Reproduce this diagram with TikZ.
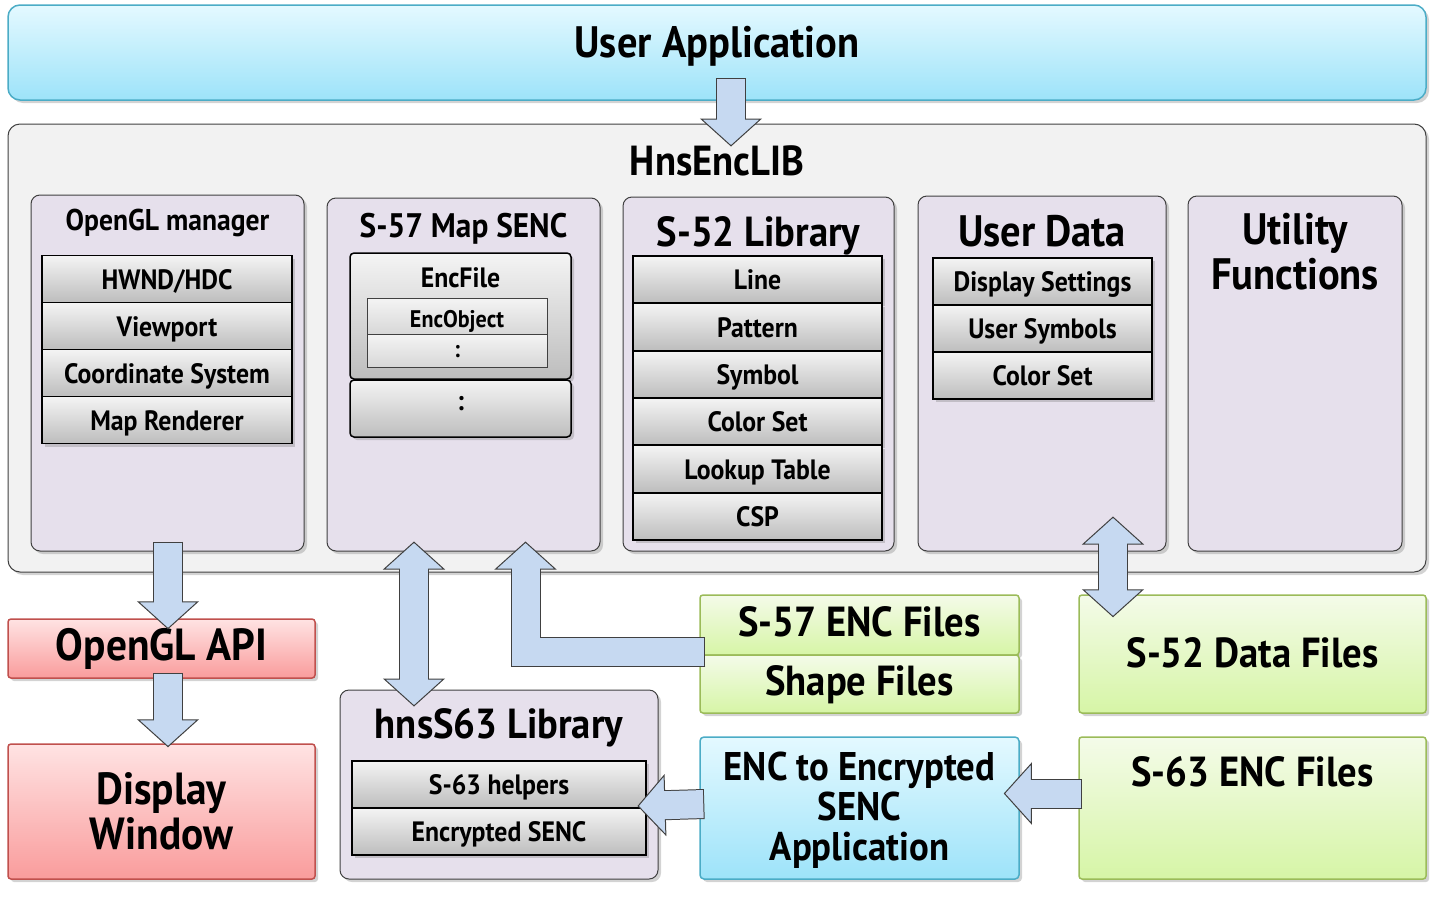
\documentclass[tikz,border=0pt]{standalone}
\usepackage{fontspec}
\setmainfont{PT Sans}[FakeStretch=0.92]
\usetikzlibrary{arrows.meta,shadows}
\definecolor{uatop}{HTML}{E4F9FF}
\definecolor{uabot}{HTML}{9DE3F9}
\definecolor{uaedge}{HTML}{4BACC6}
\definecolor{libfill}{HTML}{F2F2F2}
\definecolor{edge}{HTML}{404040}
\definecolor{lav}{HTML}{E6E0EC}
\definecolor{itemtop}{HTML}{F4F4F4}
\definecolor{itembot}{HTML}{BDBDBD}
\definecolor{redtop}{HTML}{FFE3E3}
\definecolor{redbot}{HTML}{F99C9C}
\definecolor{rededge}{HTML}{C0504D}
\definecolor{grntop}{HTML}{F4FBE9}
\definecolor{grnbot}{HTML}{D6F5A6}
\definecolor{grnedge}{HTML}{9BBB59}
\definecolor{arrfill}{HTML}{C6D9F1}
\newcommand\hugefont{\bfseries\fontsize{44}{45}\selectfont}
\newcommand\bigfont{\bfseries\fontsize{42}{44}\selectfont}
\newcommand\titlefont{\bfseries\fontsize{34}{36}\selectfont}
\newcommand\itemfont{\bfseries\fontsize{28}{30}\selectfont}
\newcommand\smallfont{\bfseries\fontsize{24}{26}\selectfont}
\tikzset{
  shade/.style={drop shadow={shadow xshift=3pt,shadow yshift=-3pt,opacity=.35}},
  bluebox/.style={rounded corners=12pt,draw=uaedge,line width=1.5pt,top color=uatop,bottom color=uabot,shade},
  libbox/.style={rounded corners=12pt,draw=edge,line width=1pt,fill=libfill,shade},
  colbox/.style={rounded corners=9pt,draw=edge,line width=1pt,fill=lav,shade},
  redbox/.style={rounded corners=3pt,draw=rededge,line width=1.5pt,top color=redtop,bottom color=redbot,shade},
  grnbox/.style={rounded corners=3pt,draw=grnedge,line width=1.5pt,top color=grntop,bottom color=grnbot,shade},
  item/.style={draw=black,line width=1.5pt,top color=itemtop,bottom color=itembot,minimum height=47pt,
    font=\itemfont,text height=20pt,text depth=0pt,shade},
  subitem/.style={draw=edge,line width=.8pt,top color=itemtop,bottom color=itembot!60,font=\smallfont,
    text height=22pt,text depth=0pt},
  blk/.tip={Triangle[length=28pt,width=62pt,line width=1pt,color=edge,fill=arrfill]},
  blkout/.style={draw=edge,line width=30pt,line join=miter},
  blkin/.style={draw=arrfill,line width=28pt,line join=miter,shorten <=1pt,shorten >=26pt},
}
\begin{document}
\begin{tikzpicture}[x=1pt,y=-1pt]
  \useasboundingbox (0,0) rectangle (1440,900);

  % top and library frame
  \path
  (717,52.5) node[bluebox,minimum width=1418pt,minimum height=95pt](ua) {}
  (717,57) node[anchor=base,font=\hugefont](uatext) {User Application}
  (717,348) node[libbox,minimum width=1418pt,minimum height=448pt](lib) {}
  (717,175) node[anchor=base,font=\bigfont](libtext) {HnsEncLIB}
  ;

  % OpenGL manager
  \path
  (167.5,373) node[colbox,minimum width=273pt,minimum height=356pt](ogl) {}
  (167.5,230) node[anchor=base,font=\bfseries\fontsize{30}{32}\selectfont](ogltext) {OpenGL manager}
  (167,279) node[item,minimum width=250pt](hwnd) {HWND/HDC}
  (167,326) node[item,minimum width=250pt](view) {Viewport}
  (167,373) node[item,minimum width=250pt](coord) {Coordinate System}
  (167,420) node[item,minimum width=250pt](render) {Map Renderer}
  ;

  % S-57 Map SENC
  \path
  (463.5,374.5) node[colbox,minimum width=273pt,minimum height=353pt](senc) {}
  (463.5,237) node[anchor=base,font=\titlefont](senctext) {S-57 Map SENC}
  (460.5,316) node[item,rounded corners=4pt,minimum width=221pt,minimum height=126pt](encfile) {}
  (460.5,287) node[anchor=base,font=\itemfont](encfiletext) {EncFile}
  (457,316) node[subitem,minimum width=180pt,minimum height=36pt](encobj) {EncObject}
  (457,350.5) node[subitem,minimum width=180pt,minimum height=33pt,text height=14pt](encdots) {:}
  (460.5,408.5) node[item,rounded corners=4pt,minimum width=221pt,minimum height=57pt,
    text height=3pt](filedots) {:}
  ;

  % S-52 Library
  \path
  (758.5,374) node[colbox,minimum width=271pt,minimum height=354pt](s52) {}
  (758.5,246) node[anchor=base,font=\bigfont](s52text) {S-52 Library}
  (757.5,279.7) node[item,minimum width=249pt](line) {Line}
  (757.5,327) node[item,minimum width=249pt](pattern) {Pattern}
  (757.5,374.3) node[item,minimum width=249pt](symbol) {Symbol}
  (757.5,421.6) node[item,minimum width=249pt](colset) {Color Set}
  (757.5,469) node[item,minimum width=249pt](lookup) {Lookup Table}
  (757.5,516.3) node[item,minimum width=249pt](csp) {CSP}
  ;

  % User Data
  \path
  (1042,373.5) node[colbox,minimum width=248pt,minimum height=355pt](ud) {}
  (1042,246) node[anchor=base,font=\hugefont](udtext) {User Data}
  (1042.5,281.5) node[item,minimum width=219pt](dispset) {Display Settings}
  (1042.5,328.5) node[item,minimum width=219pt](usym) {User Symbols}
  (1042.5,375.5) node[item,minimum width=219pt](ucol) {Color Set}
  ;

  % Utility Functions
  \path
  (1295,373.5) node[colbox,minimum width=214pt,minimum height=355pt](util) {}
  (1295,289) node[anchor=base,font=\hugefont,align=center](utiltext) {Utility\\Functions}
  ;

  % outside the library
  \path
  (161.5,648.5) node[redbox,minimum width=307pt,minimum height=59pt,font=\bfseries\fontsize{45}{46}\selectfont,
    text height=31pt,text depth=8pt](oglapi) {OpenGL API}
  (161.5,811.5) node[redbox,minimum width=307pt,minimum height=135pt,font=\bfseries\fontsize{45}{45}\selectfont,
    align=center](disp) {Display\\Window}
  (499,784.5) node[colbox,minimum width=318pt,minimum height=189pt](s63lib) {}
  (499,738) node[anchor=base,font=\bigfont](s63libtext) {hnsS63 Library}
  (499,784.5) node[item,minimum width=294pt](helpers) {S-63 helpers}
  (499,831.5) node[item,minimum width=294pt](encsenc) {Encrypted SENC}
  (859.5,625) node[grnbox,minimum width=319pt,minimum height=60pt,font=\bigfont,
    text height=30pt,text depth=8pt](s57files) {S-57 ENC Files}
  (859.5,684) node[grnbox,minimum width=319pt,minimum height=58pt,font=\bigfont,
    text height=30pt,text depth=8pt](shape) {Shape Files}
  (1252.5,654) node[grnbox,minimum width=347pt,minimum height=118pt,font=\bigfont,
    text height=30pt,text depth=4pt](s52files) {S-52 Data Files}
  (859.5,808) node[bluebox,rounded corners=4pt,minimum width=319pt,minimum height=142pt](encapp) {}
  (859.5,810) node[font=\fontsize{40}{40}\bfseries\selectfont,align=center](encapptext) {ENC to Encrypted\\SENC\\Application}
  (1252.5,808) node[grnbox,minimum width=347pt,minimum height=142pt](s63files) {}
  (1252.5,786) node[anchor=base,font=\bigfont](s63text) {S-63 ENC Files}
  ;

  % block arrows
  \draw[blkout,-blk] ([xshift=14pt,yshift=23pt]ua.south) -- ([xshift=14pt,yshift=-23pt]lib.north);
  \draw[blkin] ([xshift=14pt,yshift=23pt]ua.south) -- ([xshift=14pt,yshift=-23pt]lib.north);

  \draw[blkout,-blk] ([xshift=0.5pt,yshift=10pt]ogl.south) -- ([xshift=6.5pt,yshift=-11pt]oglapi.north);
  \draw[blkin] ([xshift=0.5pt,yshift=10pt]ogl.south) -- ([xshift=6.5pt,yshift=-11pt]oglapi.north);

  \draw[blkout,-blk] ([xshift=6.5pt,yshift=6pt]oglapi.south) -- ([xshift=6.5pt,yshift=-4pt]disp.north);
  \draw[blkin] ([xshift=6.5pt,yshift=6pt]oglapi.south) -- ([xshift=6.5pt,yshift=-4pt]disp.north);

  \draw[blkout,blk-blk] ([xshift=-49.5pt,yshift=10pt]senc.south) -- ([xshift=-85pt,yshift=-17pt]s63lib.north);
  \draw[blkin,shorten <=26pt] ([xshift=-49.5pt,yshift=10pt]senc.south) -- ([xshift=-85pt,yshift=-17pt]s63lib.north);

  \draw[blkout,-blk] ([xshift=6pt,yshift=-27pt]s57files.west) -| ([xshift=62pt,yshift=10pt]senc.south);
  \draw[blkin] ([xshift=6pt,yshift=-27pt]s57files.west) -| ([xshift=62pt,yshift=10pt]senc.south);

  \draw[blkout,blk-blk] ([xshift=71pt,yshift=35pt]ud.south) -- ([xshift=-139.5pt,yshift=-23pt]s52files.north);
  \draw[blkin,shorten <=26pt] ([xshift=71pt,yshift=35pt]ud.south) -- ([xshift=-139.5pt,yshift=-23pt]s52files.north);

  \draw[blkout,-blk] ([xshift=4pt,yshift=14.5pt]s63files.west) -- ([xshift=-16pt,yshift=14.5pt]encapp.east);
  \draw[blkin] ([xshift=4pt,yshift=14.5pt]s63files.west) -- ([xshift=-16pt,yshift=14.5pt]encapp.east);

  \draw[blkout,-blk] ([xshift=5pt,yshift=4pt]encapp.west) -- ([xshift=-21pt,yshift=-21.5pt]s63lib.east);
  \draw[blkin] ([xshift=5pt,yshift=4pt]encapp.west) -- ([xshift=-21pt,yshift=-21.5pt]s63lib.east);
\end{tikzpicture}
\end{document}
